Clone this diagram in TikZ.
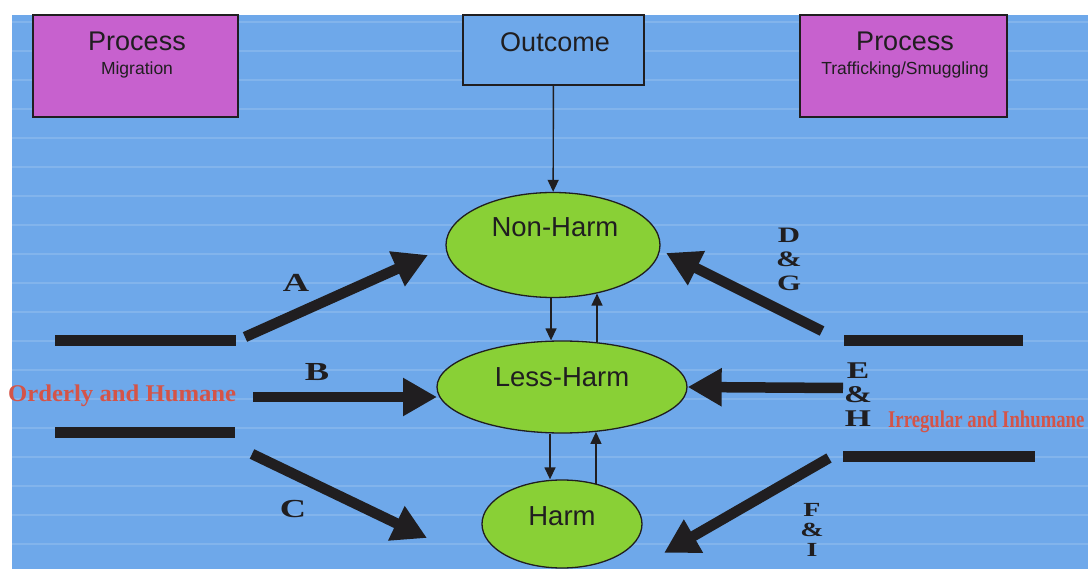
\documentclass[tikz,border=0pt]{standalone}
\usepackage{fontspec}
\usepackage{graphicx}
\setmainfont{Liberation Sans}
\newfontfamily\capsfont{Liberation Serif}
\usetikzlibrary{positioning,arrows.meta,calc,shapes.geometric}
\definecolor{ink}{RGB}{32,30,32}
\definecolor{skyblue}{RGB}{110,168,234}
\definecolor{procmag}{RGB}{199,97,206}
\definecolor{stategreen}{RGB}{137,208,54}
\definecolor{redtext}{RGB}{212,84,72}
\newcommand{\widecap}[1]{\scalebox{1.4}[1]{#1}}
\tikzset{
  procbox/.style={draw=ink, fill=procmag, line width=1.5pt, inner sep=0pt},
  outbox/.style={draw=ink, fill=skyblue, line width=1.5pt, inner sep=0pt},
  state/.style={ellipse, draw=ink, fill=stategreen, line width=1.3pt, inner sep=0pt},
  bigtitle/.style={font=\fontsize{27}{30}\selectfont, text=ink, inner sep=0pt, anchor=base},
  subtitle/.style={font=\fontsize{17.5}{20}\selectfont, text=ink, inner sep=0pt, anchor=base},
  statelbl/.style={font=\fontsize{27.5}{30}\selectfont, text=ink, inner sep=0pt, anchor=base},
  bigflow/.style={-{Triangle[length=34pt,width=36pt]}, line width=10.5pt, draw=ink},
  thinflow/.style={-{Triangle[length=12pt,width=11pt]}, line width=1.4pt, draw=ink},
  bar/.style={line width=11pt, draw=ink},
  letter/.style={font=\capsfont\bfseries\fontsize{26}{27}\selectfont, text=ink,
    inner sep=0pt, align=center},
  redlbl/.style={font=\capsfont\bfseries\fontsize{24}{26}\selectfont, text=redtext,
    inner sep=0pt, anchor=base west},
  stripe/.style={draw=white, opacity=0.14, line width=1.2pt},
}
\begin{document}
\begin{tikzpicture}[x=1pt,y=-1pt]
  \useasboundingbox (0,0) rectangle (1088,569);
  \clip (0,0) rectangle (1088,569);
  \fill[skyblue] (12,15) rectangle (1088,569);
  \foreach \yy in {22,51,...,569}
    \draw[stripe] (12,\yy) -- (1088,\yy);
  % header boxes
  \node[procbox, minimum width=205pt, minimum height=102pt] (procL) at (135.5,66) {};
  \node[bigtitle] (procLt) at (137,51) {Process};
  \node[subtitle] (procLs) at (137,75) {Migration};
  \node[outbox, minimum width=181pt, minimum height=70pt] (outc) at (553.5,50) {};
  \node[bigtitle] (outct) at (555,52) {Outcome};
  \node[procbox, minimum width=207pt, minimum height=102pt] (procR) at (903.5,66) {};
  \node[bigtitle] (procRt) at (905,51) {Process};
  \node[subtitle] (procRs) at (905,75) {Trafficking/Smuggling};
  % outcome states
  \node[state, minimum width=214pt, minimum height=105pt] (nh) at (553,245) {};
  \node[state, minimum width=250pt, minimum height=92pt] (lh) at (562,387) {};
  \node[state, minimum width=160pt, minimum height=88pt] (hm) at (562,524) {};
  \node[statelbl] (nht) at (555,237) {Non-Harm};
  \node[statelbl] (lht) at (562,387) {Less-Harm};
  \node[statelbl] (hmt) at (562,525) {Harm};
  \draw[thinflow] (outc) -- (nh);
  \draw[thinflow] ([xshift=-2pt]nh.south) -- ([xshift=-2pt]nh.south |- lh.north);
  \draw[thinflow] (lh.52) -- (lh.52 |- nh.-48);
  \draw[thinflow] ([xshift=-12pt]lh.south) -- ([xshift=-12pt]lh.south |- hm.north);
  \draw[thinflow] (hm.50) -- (hm.50 |- lh.-53);
  % side bars
  \draw[bar] (55,341) -- (236,341);
  \draw[bar] (55,433) -- (235,433);
  \draw[bar] (844,341) -- (1023,341);
  \draw[bar] (843,457) -- (1035,457);
  \node[redlbl] (ordl) at (8,402) {\scalebox{1.03}[1]{Orderly and Humane}};
  \node[redlbl] (irrl) at (888,428) {\scalebox{0.78}[1]{Irregular and Inhumane}};
  % transitions
  \coordinate (tailA) at (245,337); \coordinate (tipA) at (428,255);
  \coordinate (tailB) at (253,397); \coordinate (tipB) at (437,397);
  \coordinate (tailC) at (252,454); \coordinate (tipC) at (427,538);
  \coordinate (tailD) at (822,331); \coordinate (tipD) at (666,253);
  \coordinate (tailE) at (843,388);
  \coordinate (tailF) at (829,458); \coordinate (tipF) at (664,553);
  \draw[bigflow] (tailA) -- (tipA);
  \draw[bigflow] (tailB) -- (tipB);
  \draw[bigflow] (tailC) -- (tipC);
  \draw[bigflow] (tailD) -- (tipD);
  \draw[bigflow] (tailE) -- (lh.east);
  \draw[bigflow] (tailF) -- (tipF);
  \node[letter, anchor=base] (lblA) at (296,292) {\widecap{A}};
  \node[letter, anchor=base] (lblB) at (317,381) {\widecap{B}};
  \node[letter, anchor=base] (lblC) at (293,518) {\widecap{C}};
  \node[letter, font=\capsfont\bfseries\fontsize{22}{24}\selectfont] (lblDG) at (789,259)
       {\widecap{D}\\\widecap{\&}\\\widecap{G}};
  \node[letter, font=\capsfont\bfseries\fontsize{24}{24}\selectfont] (lblEH) at (858,395)
       {\widecap{E}\\\widecap{\&}\\\widecap{H}};
  \node[letter, font=\capsfont\bfseries\fontsize{20}{20}\selectfont] (lblFI) at (812,530)
       {\widecap{F}\\\widecap{\&}\\\widecap{I}};
\end{tikzpicture}
\end{document}
